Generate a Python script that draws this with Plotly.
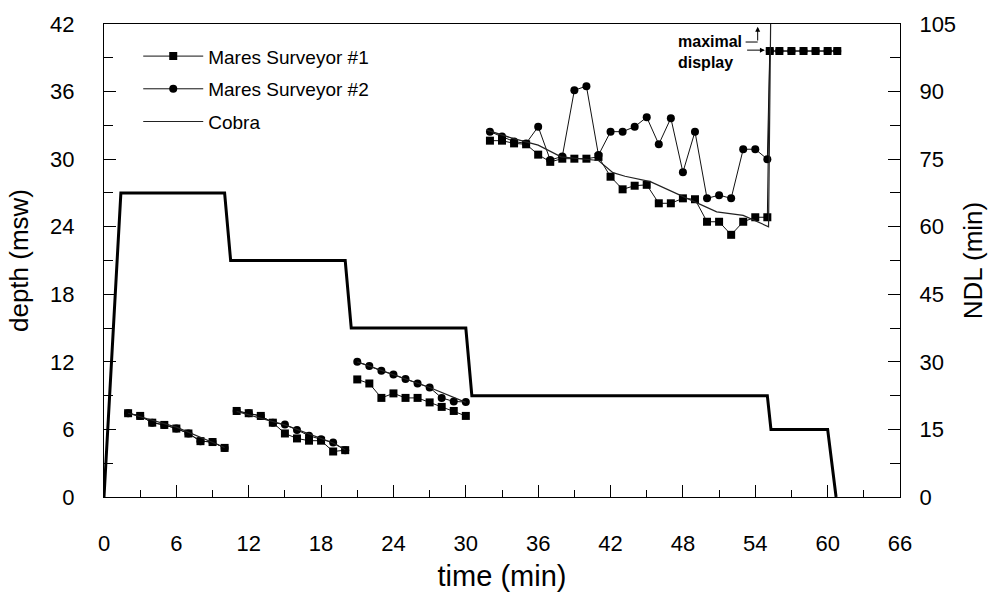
import plotly.graph_objects as go

# ---------------- data ----------------
# Cobra depth profile (msw, left axis)
cobra_depth_t = [0, 1.4, 10.0, 10.5, 20.0, 20.5, 30.0, 30.5, 55.0, 55.3, 60.0, 60.7]
cobra_depth = [0, 27, 27, 21, 21, 15, 15, 9, 9, 6, 6, 0]

# Cobra NDL (min, right axis)
cobra_ndl_t = [2, 6, 10, None, 11, 15, 19, 20, None, 21, 27, 30, None,
               31.7, 33.9, 36.0, 37.9, 41.0, 42.2, 43.2, 45.3, 50.8, 53.0, 55.1, 55.3]
cobra_ndl = [18.6, 15.5, 11.0, None, 19.0, 16.0, 12.0, 10.5, None, 30.0, 24.3, 21.0, None,
             81.5, 79.6, 78.1, 75.5, 74.7, 72.0, 71.2, 70.0, 63.3, 62.5, 60.0, 112]

# Mares Surveyor #1 NDL (min)
m1_t = [2, 3, 4, 5, 6, 7, 8, 9, 10, None,
        11, 12, 13, 14, 15, 16, 17, 18, 19, 20, None,
        21, 22, 23, 24, 25, 26, 27, 28, 29, 30, None,
        32, 33, 34, 35, 36, 37, 38, 39, 40, 41, 42, 43, 44, 45, 46, 47, 48, 49, 50,
        51, 52, 53, 54, 55, 55.2, 56, 57, 58, 59, 60, 60.8]
m1_ndl = [18.6, 18.0, 16.5, 16.0, 15.2, 14.1, 12.4, 12.2, 10.9, None,
          19.1, 18.6, 18.0, 16.5, 14.1, 13.0, 12.5, 12.5, 10.1, 10.4, None,
          26.1, 25.2, 22.0, 23.0, 22.0, 22.0, 21.0, 20.0, 19.1, 18.0, None,
          79.1, 79.1, 78.5, 78.3, 76.0, 74.4, 75.1, 75.1, 75.1, 75.5, 71.1, 68.3, 69.1,
          69.3, 65.2, 65.2, 66.3, 66.1, 61.1, 61.1, 58.2, 61.1, 62.1, 62.1,
          99, 99, 99, 99, 99, 99, 99]

# Mares Surveyor #2 NDL (min)
m2_t = [2, 3, 4, 5, 6, 7, 8, 9, 10, None,
        11, 12, 13, 14, 15, 16, 17, 18, 19, 20, None,
        21, 22, 23, 24, 25, 26, 27, 28, 29, 30, None,
        32, 33, 34, 35, 36, 37, 38, 39, 40, 41, 42, 43, 44, 45, 46, 47, 48, 49, 50,
        51, 52, 53, 54, 55, 55.2, 56, 57, 58, 59, 60, 60.8]
m2_ndl = [18.6, 18.0, 16.5, 16.0, 15.2, 14.1, 12.4, 12.2, 10.9, None,
          19.1, 18.6, 18.0, 16.5, 16.1, 14.9, 13.6, 12.8, 12.1, 10.4, None,
          30.0, 29.1, 28.0, 27.2, 26.2, 25.2, 24.3, 22.0, 21.2, 21.1, None,
          81.1, 80.0, 78.9, 78.5, 82.2, 74.8, 75.6, 90.3, 91.2, 75.9, 81.1, 81.1, 82.2,
          84.3, 78.3, 84.1, 72.1, 81.1, 66.3, 67.0, 66.3, 77.2, 77.2, 75.0,
          99, 99, 99, 99, 99, 99, 99]

x_range = [0, 66]
depth_range = [0, 42]
ndl_range = [0, 105]

FONT = "Liberation Sans, Arial, sans-serif"

fig = go.Figure()

fig.add_trace(go.Scatter(
    x=cobra_depth_t, y=cobra_depth, mode="lines", name="Cobra depth",
    line=dict(color="black", width=3), showlegend=False, yaxis="y"))

fig.add_trace(go.Scatter(
    x=m1_t, y=m1_ndl, mode="lines+markers", name="Mares Surveyor #1",
    line=dict(color="#111111", width=1),
    marker=dict(symbol="square", size=8, color="black"),
    yaxis="y2", legendgroup="a", connectgaps=False))

fig.add_trace(go.Scatter(
    x=m2_t, y=m2_ndl, mode="lines+markers", name="Mares Surveyor #2",
    line=dict(color="#111111", width=1),
    marker=dict(symbol="circle", size=8, color="black"),
    yaxis="y2", legendgroup="b", connectgaps=False))

fig.add_trace(go.Scatter(
    x=cobra_ndl_t, y=cobra_ndl, mode="lines", name="Cobra",
    line=dict(color="#222222", width=1.2),
    yaxis="y2", legendgroup="c", connectgaps=False))

tickfont = dict(family=FONT, size=22, color="black")
titlefont = dict(family=FONT, size=26, color="black")

fig.update_layout(
    width=994, height=598,
    margin=dict(l=104, r=94, t=24, b=101, autoexpand=False),
    paper_bgcolor="white", plot_bgcolor="white",
    font=dict(family=FONT, color="black"),
    xaxis=dict(
        range=x_range, tickmode="linear", tick0=0, dtick=6,
        ticks="inside", ticklen=12, tickwidth=1, tickcolor="black",
        minor=dict(dtick=3, ticks="inside", ticklen=7, tickwidth=1, tickcolor="black"),
        showline=True, linecolor="black", linewidth=1, mirror=True,
        showgrid=False, zeroline=False, tickfont=tickfont, ticklabelstandoff=27,
        title=dict(text="time (min)", font=dict(family=FONT, size=29, color="black"),
                   standoff=10)),
    xaxis2=dict(
        overlaying="x", anchor="y", side="bottom", range=x_range,
        tickmode="linear", tick0=0, dtick=6,
        ticks="outside", ticklen=6, tickwidth=1, tickcolor="black",
        minor=dict(dtick=3, ticks="outside", ticklen=6, tickwidth=1, tickcolor="black"),
        showticklabels=False, showline=False, showgrid=False, zeroline=False),
    yaxis=dict(
        range=depth_range, tickmode="linear", tick0=0, dtick=6,
        ticks="inside", ticklen=12, tickwidth=1, tickcolor="black",
        minor=dict(dtick=3, ticks="inside", ticklen=9, tickwidth=1, tickcolor="black"),
        showline=True, linecolor="black", linewidth=1,
        showgrid=False, zeroline=False, tickfont=tickfont, ticklabelstandoff=24,
        title=dict(text="depth (msw)", font=titlefont, standoff=14)),
    yaxis3=dict(
        overlaying="y", anchor="x", side="left", range=depth_range,
        tickmode="linear", tick0=0, dtick=6,
        ticks="outside", ticklen=8, tickwidth=1, tickcolor="black",
        minor=dict(dtick=3, ticks="outside", ticklen=8, tickwidth=1, tickcolor="black"),
        showticklabels=False, showline=False, showgrid=False, zeroline=False),
    yaxis2=dict(
        overlaying="y", anchor="x", side="right", range=ndl_range,
        tickmode="linear", tick0=0, dtick=15,
        ticks="inside", ticklen=12, tickwidth=1, tickcolor="black",
        minor=dict(dtick=7.5, ticks="inside", ticklen=10, tickwidth=1, tickcolor="black"),
        showline=True, linecolor="black", linewidth=1,
        showgrid=False, zeroline=False, tickfont=tickfont, ticklabelstandoff=14,
        title=dict(text="NDL (min)", font=titlefont, standoff=8)),
    yaxis4=dict(
        overlaying="y", anchor="x", side="right", range=ndl_range,
        tickmode="linear", tick0=0, dtick=15,
        ticks="outside", ticklen=10, tickwidth=1, tickcolor="black",
        minor=dict(dtick=7.5, ticks="outside", ticklen=10, tickwidth=1, tickcolor="black"),
        showticklabels=False, showline=False, showgrid=False, zeroline=False),
    legend=dict(
        x=0.043, y=0.972, xanchor="left", yanchor="top",
        bgcolor="rgba(0,0,0,0)", font=dict(family=FONT, size=19, color="black"),
        traceorder="grouped", tracegroupgap=5, itemwidth=60),
)

# "maximal display" note with arrows
fig.add_annotation(
    x=53.1, y=103.4, xref="x", yref="y2", text="<b>maximal<br>display</b>",
    showarrow=False, xanchor="right", yanchor="top", align="left",
    font=dict(family=FONT, size=16, color="black"))
fig.add_shape(type="line", xref="x", yref="y2", x0=53.2, y0=101.0, x1=54.2, y1=101.0,
              line=dict(color="black", width=1))
fig.add_annotation(
    x=54.2, y=104.4, ax=54.2, ay=101.0, xref="x", yref="y2", axref="x", ayref="y2",
    text="", showarrow=True, arrowhead=2, arrowsize=1, arrowwidth=1, arrowcolor="black")
fig.add_annotation(
    x=54.8, y=99.2, ax=53.2, ay=99.2, xref="x", yref="y2", axref="x", ayref="y2",
    text="", showarrow=True, arrowhead=2, arrowsize=1, arrowwidth=1, arrowcolor="black")

fig.write_html("out.html")
